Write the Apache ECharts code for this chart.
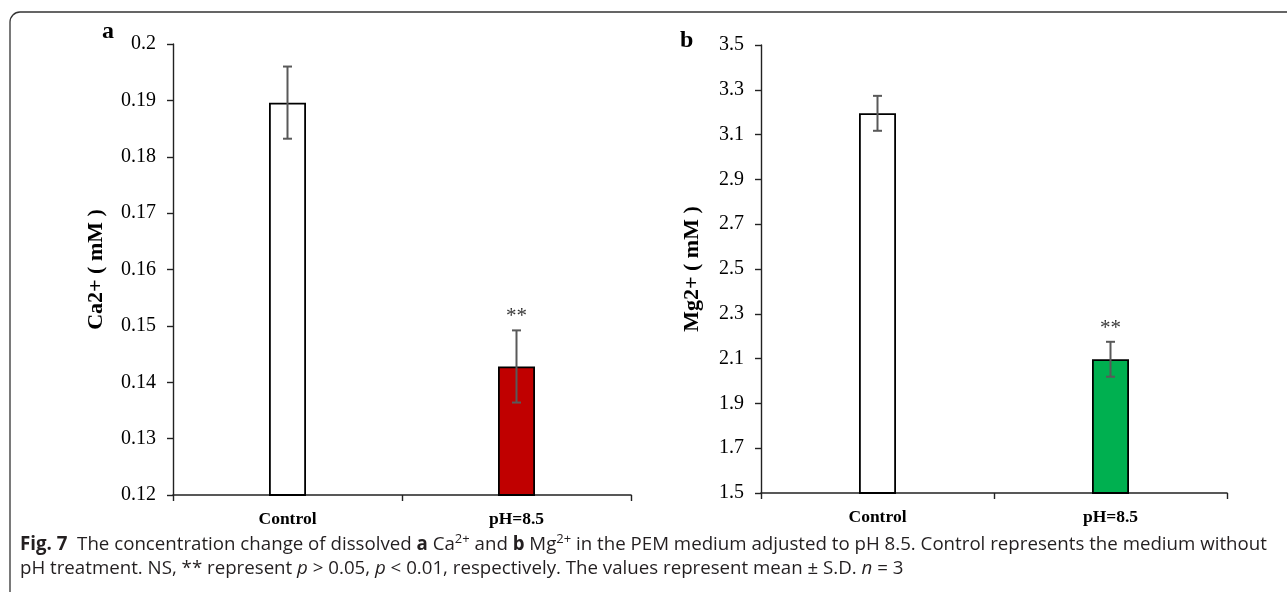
<!DOCTYPE html>
<html>
<head>
<meta charset="utf-8">
<script src="https://cdn.jsdelivr.net/npm/echarts@6/dist/echarts.min.js"></script>
<style>
html,body{margin:0;padding:0;background:#fff;}
#chart{width:1287px;height:592px;}
</style>
</head>
<body>
<div id="chart"></div>
<script>
// ---- data ----
const categories = ['Control', 'pH=8.5'];
const caMean = [0.1896, 0.1428];
const caSD = [0.0064, 0.0064];
const mgMean = [3.195, 2.097];
const mgSD = [0.078, 0.078];
const sigMarks = ['', '**'];
const caTicks = [0.12, 0.13, 0.14, 0.15, 0.16, 0.17, 0.18, 0.19, 0.2];
const mgTicks = [1.5, 1.7, 1.9, 2.1, 2.3, 2.5, 2.7, 2.9, 3.1, 3.3, 3.5];
const caColors = ['#ffffff', '#c00000'];
const mgColors = ['#ffffff', '#00b050'];

const serif = '"Liberation Serif", "Times New Roman", serif';

function errSeries(xAxisIndex, yAxisIndex, means, sds) {
  return {
    type: 'custom',
    xAxisIndex, yAxisIndex,
    z: 5,
    data: means.map((m, i) => [i, m - sds[i], m + sds[i]]),
    renderItem: function (params, api) {
      const lo = api.coord([api.value(0), api.value(1)]);
      const hi = api.coord([api.value(0), api.value(2)]);
      const hw = 4.5;
      const st = { stroke: '#595959', lineWidth: 2 };
      return {
        type: 'group',
        children: [
          { type: 'line', shape: { x1: lo[0], y1: lo[1], x2: hi[0], y2: hi[1] }, style: st },
          { type: 'line', shape: { x1: lo[0] - hw, y1: lo[1], x2: lo[0] + hw, y2: lo[1] }, style: st },
          { type: 'line', shape: { x1: hi[0] - hw, y1: hi[1], x2: hi[0] + hw, y2: hi[1] }, style: st }
        ]
      };
    }
  };
}

function sigSeries(xAxisIndex, yAxisIndex, means, sds) {
  return {
    type: 'scatter',
    xAxisIndex, yAxisIndex,
    symbolSize: 0,
    silent: true,
    data: means.map((m, i) => ({ value: [i, m + sds[i]], name: sigMarks[i] })),
    label: {
      show: true,
      position: 'top',
      distance: 3,
      formatter: p => p.name,
      fontFamily: serif,
      fontSize: 21,
      color: '#000'
    }
  };
}

function barSeries(xAxisIndex, yAxisIndex, means, colors) {
  return {
    type: 'bar',
    xAxisIndex, yAxisIndex,
    barWidth: 37,
    data: means.map((m, i) => ({ value: m, itemStyle: { color: colors[i] } })),
    itemStyle: { borderColor: '#000', borderWidth: 1.8 }
  };
}

function xAx(gridIndex) {
  return {
    type: 'category', gridIndex, data: categories,
    axisLine: { lineStyle: { color: '#222', width: 1.6 } },
    axisTick: { show: true, length: 6, alignWithLabel: false, lineStyle: { color: '#222', width: 1.4 } },
    axisLabel: { fontFamily: serif, fontWeight: 'bold', fontSize: 17.5, color: '#000', margin: 15 }
  };
}

function yAx(gridIndex, ticks, name, nameGap) {
  const step = +(ticks[1] - ticks[0]).toFixed(4);
  return {
    type: 'value', gridIndex,
    min: ticks[0], max: ticks[ticks.length - 1], interval: step,
    name: name, nameLocation: 'middle', nameGap: nameGap, nameRotate: 90,
    nameTextStyle: { fontFamily: serif, fontWeight: 'bold', fontSize: 22, color: '#000' },
    splitLine: { show: false },
    axisLine: { show: true, lineStyle: { color: '#222', width: 1.4 } },
    axisTick: { show: true, length: 6, lineStyle: { color: '#222', width: 1.4 } },
    axisLabel: {
      fontFamily: serif, fontSize: 20, color: '#000', margin: 17,
      formatter: v => String(+(+v).toFixed(3))
    }
  };
}

const capFont = '"Open Sans", sans-serif';
const capSize = 18.7;

const chart = echarts.init(document.getElementById('chart'), null, { renderer: 'canvas' });
chart.setOption({
  animation: false,
  backgroundColor: '#fff',
  grid: [
    { left: 173, top: 44, width: 458, height: 451 },
    { left: 761, top: 45, width: 466, height: 448 }
  ],
  xAxis: [xAx(0), xAx(1)],
  yAxis: [yAx(0, caTicks, 'Ca2+ ( mM )', 66), yAx(1, mgTicks, 'Mg2+ ( mM )', 58)],
  series: [
    barSeries(0, 0, caMean, caColors),
    errSeries(0, 0, caMean, caSD),
    sigSeries(0, 0, caMean, caSD),
    barSeries(1, 1, mgMean, mgColors),
    errSeries(1, 1, mgMean, mgSD),
    sigSeries(1, 1, mgMean, mgSD)
  ],
  graphic: [
    {
      type: 'rect', silent: true, z: -1,
      shape: { x: 10, y: 12, width: 1320, height: 640, r: 10 },
      style: { fill: 'none', stroke: '#333', lineWidth: 1.3 }
    },
    {
      type: 'text', left: 102, top: 20,
      style: { text: 'a', font: 'bold 24px ' + serif, fill: '#000' }
    },
    {
      type: 'text', left: 680, top: 29,
      style: { text: 'b', font: 'bold 24px ' + serif, fill: '#000' }
    },
    {
      type: 'text', left: 20, top: 533,
      style: {
        text: '{b|Fig. 7}  The concentration change of dissolved {b|a} Ca{sup|2+} and {b|b} Mg{sup|2+} in the PEM medium adjusted to pH 8.5. Control represents the medium without',
        font: capSize + 'px ' + capFont,
        fill: '#231f20',
        rich: {
          b: { fontWeight: 'bold', fontSize: capSize, fontFamily: 'Open Sans', fill: '#231f20' },
          sup: { fontSize: 13, fontFamily: 'Open Sans', fill: '#231f20', verticalAlign: 'top', padding: [0, 0, 10, 0] }
        }
      }
    },
    {
      type: 'text', left: 20, top: 559,
      style: {
        text: 'pH treatment. NS, ** represent {i|p} > 0.05, {i|p} < 0.01, respectively. The values represent mean ± S.D. {i|n} = 3',
        font: capSize + 'px ' + capFont,
        fill: '#231f20',
        rich: {
          i: { fontStyle: 'italic', fontSize: capSize, fontFamily: 'Open Sans', fill: '#231f20' }
        }
      }
    }
  ]
});
</script>
</body>
</html>
